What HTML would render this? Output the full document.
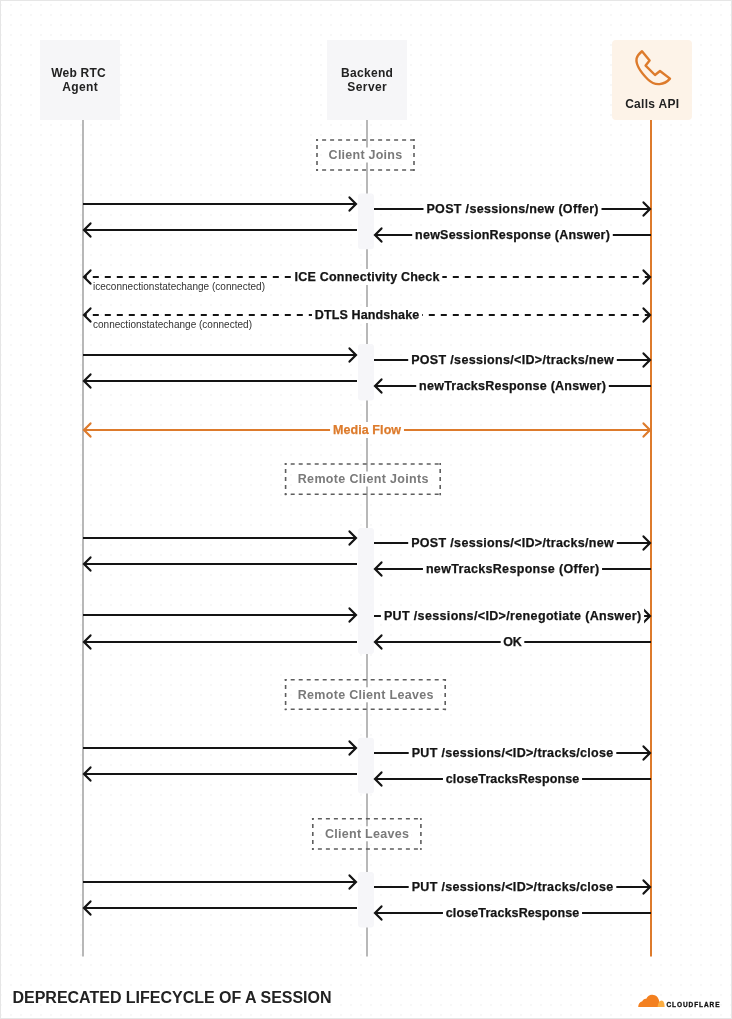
<!DOCTYPE html>
<html><head><meta charset="utf-8"><style>
html,body{margin:0;padding:0;background:#fff;}
body{width:732px;height:1019px;overflow:hidden;position:relative;}
svg{position:absolute;left:0;top:0;will-change:transform;font-family:"Liberation Sans",sans-serif;}
.frame{position:absolute;left:0;top:0;width:730px;height:1017px;border:1px solid #e6e6e6;}
</style></head><body>
<svg width="732" height="1019" viewBox="0 0 732 1019">
<defs><pattern id="dots" x="0" y="0" width="10" height="10" patternUnits="userSpaceOnUse"><rect x="0.5" y="4.5" width="1" height="1" fill="#e0e0e0"/></pattern></defs>
<rect x="0" y="0" width="732" height="1019" fill="url(#dots)"/>
<rect x="40" y="40" width="80" height="80" fill="#f6f6f8"/>
<rect x="327" y="40" width="80" height="80" fill="#f6f6f8"/>
<rect x="612" y="40" width="80" height="80" rx="4" fill="#fdf3e8"/>
<rect x="82" y="120" width="2" height="836.5" fill="#b8b8b8"/>
<rect x="366" y="120" width="2" height="836.5" fill="#b8b8b8"/>
<rect x="650" y="120" width="2" height="836.5" fill="#dd7b2c"/>
<text x="78.61" y="76.5" text-anchor="middle" font-size="12" font-weight="bold" fill="#222" letter-spacing="0.213">Web RTC</text>
<text x="80.18" y="90.8" text-anchor="middle" font-size="12" font-weight="bold" fill="#222" letter-spacing="0.360">Agent</text>
<text x="367.15" y="76.6" text-anchor="middle" font-size="12" font-weight="bold" fill="#222" letter-spacing="0.310">Backend</text>
<text x="367.22" y="90.8" text-anchor="middle" font-size="12" font-weight="bold" fill="#222" letter-spacing="0.438">Server</text>
<text x="652.25" y="107.9" text-anchor="middle" font-size="12" font-weight="bold" fill="#222" letter-spacing="0.291">Calls API</text>
<path d="M642,51.2 L649.6,60.6 L645.6,65.6 L655,75 L660,71 L670,78.6 C664.5,85 655,86.5 648,79.5 C641,72.5 635.5,65 636.6,58.5 C637.3,55.5 639.8,53 642,51.2 Z" fill="none" stroke="#dd7b2c" stroke-width="2.4" stroke-linejoin="round"/>
<line x1="316.1" y1="140" x2="414.9" y2="140" stroke="#5e5e5e" stroke-width="1.6" stroke-dasharray="4 4" stroke-dashoffset="2"/><line x1="316.1" y1="170" x2="414.9" y2="170" stroke="#5e5e5e" stroke-width="1.6" stroke-dasharray="4 4" stroke-dashoffset="2"/><line x1="317" y1="139.1" x2="317" y2="170.9" stroke="#5e5e5e" stroke-width="1.6" stroke-dasharray="4 4" stroke-dashoffset="2"/><line x1="414" y1="139.1" x2="414" y2="170.9" stroke="#5e5e5e" stroke-width="1.6" stroke-dasharray="4 4" stroke-dashoffset="2"/><rect x="326.5" y="147.5" width="77.80000000000001" height="15" fill="#fff"/><text x="365.52" y="159" text-anchor="middle" font-size="12.5" font-weight="bold" fill="#7a7a7a" letter-spacing="0.246">Client Joins</text>
<line x1="284.70000000000005" y1="464" x2="441.09999999999997" y2="464" stroke="#5e5e5e" stroke-width="1.6" stroke-dasharray="4 4" stroke-dashoffset="2"/><line x1="284.70000000000005" y1="494.3" x2="441.09999999999997" y2="494.3" stroke="#5e5e5e" stroke-width="1.6" stroke-dasharray="4 4" stroke-dashoffset="2"/><line x1="285.6" y1="463.1" x2="285.6" y2="495.2" stroke="#5e5e5e" stroke-width="1.6" stroke-dasharray="4 4" stroke-dashoffset="2"/><line x1="440.2" y1="463.1" x2="440.2" y2="495.2" stroke="#5e5e5e" stroke-width="1.6" stroke-dasharray="4 4" stroke-dashoffset="2"/><rect x="295.6" y="471.5" width="135.09999999999997" height="15" fill="#fff"/><text x="363.32" y="483" text-anchor="middle" font-size="12.5" font-weight="bold" fill="#7a7a7a" letter-spacing="0.339">Remote Client Joints</text>
<line x1="284.70000000000005" y1="679.8" x2="446.09999999999997" y2="679.8" stroke="#5e5e5e" stroke-width="1.6" stroke-dasharray="4 4" stroke-dashoffset="2"/><line x1="284.70000000000005" y1="709.3" x2="446.09999999999997" y2="709.3" stroke="#5e5e5e" stroke-width="1.6" stroke-dasharray="4 4" stroke-dashoffset="2"/><line x1="285.6" y1="678.9" x2="285.6" y2="710.1999999999999" stroke="#5e5e5e" stroke-width="1.6" stroke-dasharray="4 4" stroke-dashoffset="2"/><line x1="445.2" y1="678.9" x2="445.2" y2="710.1999999999999" stroke="#5e5e5e" stroke-width="1.6" stroke-dasharray="4 4" stroke-dashoffset="2"/><rect x="295.6" y="687.3" width="140.0" height="15" fill="#fff"/><text x="365.75" y="698.8" text-anchor="middle" font-size="12.5" font-weight="bold" fill="#7a7a7a" letter-spacing="0.304">Remote Client Leaves</text>
<line x1="311.90000000000003" y1="818.8" x2="421.79999999999995" y2="818.8" stroke="#5e5e5e" stroke-width="1.6" stroke-dasharray="4 4" stroke-dashoffset="2"/><line x1="311.90000000000003" y1="849" x2="421.79999999999995" y2="849" stroke="#5e5e5e" stroke-width="1.6" stroke-dasharray="4 4" stroke-dashoffset="2"/><line x1="312.8" y1="817.9" x2="312.8" y2="849.9" stroke="#5e5e5e" stroke-width="1.6" stroke-dasharray="4 4" stroke-dashoffset="2"/><line x1="420.9" y1="817.9" x2="420.9" y2="849.9" stroke="#5e5e5e" stroke-width="1.6" stroke-dasharray="4 4" stroke-dashoffset="2"/><rect x="322.9" y="826.3" width="88.10000000000002" height="15" fill="#fff"/><text x="367.08" y="837.8" text-anchor="middle" font-size="12.5" font-weight="bold" fill="#7a7a7a" letter-spacing="0.270">Client Leaves</text>
<rect x="358" y="193.6" width="16" height="55.70" rx="3" fill="#f6f6f9"/>
<rect x="358" y="344" width="16" height="56.60" rx="3" fill="#f6f6f9"/>
<rect x="358" y="528" width="16" height="126.00" rx="3" fill="#f6f6f9"/>
<rect x="358" y="737.7" width="16" height="55.70" rx="3" fill="#f6f6f9"/>
<rect x="358" y="871.9" width="16" height="55.50" rx="3" fill="#f6f6f9"/>
<line x1="83" y1="204" x2="356" y2="204" stroke="#141414" stroke-width="2"/><polyline points="349.5,197.4 356,204 349.5,210.6" fill="none" stroke="#141414" stroke-width="2.2" stroke-linecap="round"/>
<line x1="84" y1="230" x2="357" y2="230" stroke="#141414" stroke-width="2"/><polyline points="90.5,223.4 84,230 90.5,236.6" fill="none" stroke="#141414" stroke-width="2.2" stroke-linecap="round"/>
<line x1="374" y1="209" x2="650" y2="209" stroke="#141414" stroke-width="2"/><polyline points="643.5,202.4 650,209 643.5,215.6" fill="none" stroke="#141414" stroke-width="2.2" stroke-linecap="round"/>
<rect x="423.50" y="201.00" width="178.00" height="16" fill="#fff"/><text x="512.66" y="213.35" text-anchor="middle" font-size="12.5" font-weight="bold" fill="#141414" stroke="#141414" stroke-width="0.25" letter-spacing="0.326">POST /sessions/new (Offer)</text>
<line x1="375" y1="235" x2="651" y2="235" stroke="#141414" stroke-width="2"/><polyline points="381.5,228.4 375,235 381.5,241.6" fill="none" stroke="#141414" stroke-width="2.2" stroke-linecap="round"/>
<rect x="412.20" y="227.00" width="200.60" height="16" fill="#fff"/><text x="512.61" y="239.35" text-anchor="middle" font-size="12.5" font-weight="bold" fill="#141414" stroke="#141414" stroke-width="0.25" letter-spacing="0.224">newSessionResponse (Answer)</text>
<line x1="83" y1="355" x2="356" y2="355" stroke="#141414" stroke-width="2"/><polyline points="349.5,348.4 356,355 349.5,361.6" fill="none" stroke="#141414" stroke-width="2.2" stroke-linecap="round"/>
<line x1="84" y1="381" x2="357" y2="381" stroke="#141414" stroke-width="2"/><polyline points="90.5,374.4 84,381 90.5,387.6" fill="none" stroke="#141414" stroke-width="2.2" stroke-linecap="round"/>
<line x1="374" y1="360" x2="650" y2="360" stroke="#141414" stroke-width="2"/><polyline points="643.5,353.4 650,360 643.5,366.6" fill="none" stroke="#141414" stroke-width="2.2" stroke-linecap="round"/>
<rect x="408.20" y="352.00" width="208.60" height="16" fill="#fff"/><text x="512.66" y="364.35" text-anchor="middle" font-size="12.5" font-weight="bold" fill="#141414" stroke="#141414" stroke-width="0.25" letter-spacing="0.328">POST /sessions/&lt;ID&gt;/tracks/new</text>
<line x1="375" y1="386" x2="651" y2="386" stroke="#141414" stroke-width="2"/><polyline points="381.5,379.4 375,386 381.5,392.6" fill="none" stroke="#141414" stroke-width="2.2" stroke-linecap="round"/>
<rect x="416.20" y="378.00" width="192.60" height="16" fill="#fff"/><text x="512.62" y="390.35" text-anchor="middle" font-size="12.5" font-weight="bold" fill="#141414" stroke="#141414" stroke-width="0.25" letter-spacing="0.245">newTracksResponse (Answer)</text>
<line x1="83" y1="538" x2="356" y2="538" stroke="#141414" stroke-width="2"/><polyline points="349.5,531.4 356,538 349.5,544.6" fill="none" stroke="#141414" stroke-width="2.2" stroke-linecap="round"/>
<line x1="84" y1="564" x2="357" y2="564" stroke="#141414" stroke-width="2"/><polyline points="90.5,557.4 84,564 90.5,570.6" fill="none" stroke="#141414" stroke-width="2.2" stroke-linecap="round"/>
<line x1="374" y1="543" x2="650" y2="543" stroke="#141414" stroke-width="2"/><polyline points="643.5,536.4 650,543 643.5,549.6" fill="none" stroke="#141414" stroke-width="2.2" stroke-linecap="round"/>
<rect x="408.20" y="535.00" width="208.60" height="16" fill="#fff"/><text x="512.66" y="547.35" text-anchor="middle" font-size="12.5" font-weight="bold" fill="#141414" stroke="#141414" stroke-width="0.25" letter-spacing="0.328">POST /sessions/&lt;ID&gt;/tracks/new</text>
<line x1="375" y1="569" x2="651" y2="569" stroke="#141414" stroke-width="2"/><polyline points="381.5,562.4 375,569 381.5,575.6" fill="none" stroke="#141414" stroke-width="2.2" stroke-linecap="round"/>
<rect x="422.95" y="561.00" width="179.10" height="16" fill="#fff"/><text x="512.66" y="573.35" text-anchor="middle" font-size="12.5" font-weight="bold" fill="#141414" stroke="#141414" stroke-width="0.25" letter-spacing="0.327">newTracksResponse (Offer)</text>
<line x1="83" y1="615" x2="356" y2="615" stroke="#141414" stroke-width="2"/><polyline points="349.5,608.4 356,615 349.5,621.6" fill="none" stroke="#141414" stroke-width="2.2" stroke-linecap="round"/>
<line x1="84" y1="642" x2="357" y2="642" stroke="#141414" stroke-width="2"/><polyline points="90.5,635.4 84,642 90.5,648.6" fill="none" stroke="#141414" stroke-width="2.2" stroke-linecap="round"/>
<line x1="374" y1="616" x2="650" y2="616" stroke="#141414" stroke-width="2"/><polyline points="643.5,609.4 650,616 643.5,622.6" fill="none" stroke="#141414" stroke-width="2.2" stroke-linecap="round"/>
<rect x="380.90" y="608.00" width="263.20" height="16" fill="#fff"/><text x="512.68" y="620.35" text-anchor="middle" font-size="12.5" font-weight="bold" fill="#141414" stroke="#141414" stroke-width="0.25" letter-spacing="0.353">PUT /sessions/&lt;ID&gt;/renegotiate (Answer)</text>
<line x1="375" y1="642" x2="651" y2="642" stroke="#141414" stroke-width="2"/><polyline points="381.5,635.4 375,642 381.5,648.6" fill="none" stroke="#141414" stroke-width="2.2" stroke-linecap="round"/>
<rect x="500.70" y="634.00" width="23.60" height="16" fill="#fff"/><text x="512.31" y="646.35" text-anchor="middle" font-size="12.5" font-weight="bold" fill="#141414" stroke="#141414" stroke-width="0.25" letter-spacing="-0.375">OK</text>
<line x1="83" y1="748" x2="356" y2="748" stroke="#141414" stroke-width="2"/><polyline points="349.5,741.4 356,748 349.5,754.6" fill="none" stroke="#141414" stroke-width="2.2" stroke-linecap="round"/>
<line x1="84" y1="774" x2="357" y2="774" stroke="#141414" stroke-width="2"/><polyline points="90.5,767.4 84,774 90.5,780.6" fill="none" stroke="#141414" stroke-width="2.2" stroke-linecap="round"/>
<line x1="374" y1="753" x2="650" y2="753" stroke="#141414" stroke-width="2"/><polyline points="643.5,746.4 650,753 643.5,759.6" fill="none" stroke="#141414" stroke-width="2.2" stroke-linecap="round"/>
<rect x="408.70" y="745.00" width="207.60" height="16" fill="#fff"/><text x="512.66" y="757.35" text-anchor="middle" font-size="12.5" font-weight="bold" fill="#141414" stroke="#141414" stroke-width="0.25" letter-spacing="0.330">PUT /sessions/&lt;ID&gt;/tracks/close</text>
<line x1="375" y1="779" x2="651" y2="779" stroke="#141414" stroke-width="2"/><polyline points="381.5,772.4 375,779 381.5,785.6" fill="none" stroke="#141414" stroke-width="2.2" stroke-linecap="round"/>
<rect x="442.95" y="771.00" width="139.10" height="16" fill="#fff"/><text x="512.56" y="783.35" text-anchor="middle" font-size="12.5" font-weight="bold" fill="#141414" stroke="#141414" stroke-width="0.25" letter-spacing="0.114">closeTracksResponse</text>
<line x1="83" y1="882" x2="356" y2="882" stroke="#141414" stroke-width="2"/><polyline points="349.5,875.4 356,882 349.5,888.6" fill="none" stroke="#141414" stroke-width="2.2" stroke-linecap="round"/>
<line x1="84" y1="908" x2="357" y2="908" stroke="#141414" stroke-width="2"/><polyline points="90.5,901.4 84,908 90.5,914.6" fill="none" stroke="#141414" stroke-width="2.2" stroke-linecap="round"/>
<line x1="374" y1="887" x2="650" y2="887" stroke="#141414" stroke-width="2"/><polyline points="643.5,880.4 650,887 643.5,893.6" fill="none" stroke="#141414" stroke-width="2.2" stroke-linecap="round"/>
<rect x="408.70" y="879.00" width="207.60" height="16" fill="#fff"/><text x="512.66" y="891.35" text-anchor="middle" font-size="12.5" font-weight="bold" fill="#141414" stroke="#141414" stroke-width="0.25" letter-spacing="0.330">PUT /sessions/&lt;ID&gt;/tracks/close</text>
<line x1="375" y1="913" x2="651" y2="913" stroke="#141414" stroke-width="2"/><polyline points="381.5,906.4 375,913 381.5,919.6" fill="none" stroke="#141414" stroke-width="2.2" stroke-linecap="round"/>
<rect x="442.95" y="905.00" width="139.10" height="16" fill="#fff"/><text x="512.56" y="917.35" text-anchor="middle" font-size="12.5" font-weight="bold" fill="#141414" stroke="#141414" stroke-width="0.25" letter-spacing="0.114">closeTracksResponse</text>
<line x1="84" y1="277" x2="650" y2="277" stroke="#141414" stroke-width="2" stroke-dasharray="6 6" stroke-dashoffset="3.2"/><polyline points="90.5,270.4 84,277 90.5,283.6" fill="none" stroke="#141414" stroke-width="2.2" stroke-linecap="round"/><polyline points="643.5,270.4 650,277 643.5,283.6" fill="none" stroke="#141414" stroke-width="2.2" stroke-linecap="round"/><rect x="291.70" y="269.00" width="150.60" height="16" fill="#fff"/><text x="367.11" y="281.35" text-anchor="middle" font-size="12.5" font-weight="bold" fill="#141414" stroke="#141414" stroke-width="0.25" letter-spacing="0.213">ICE Connectivity Check</text>
<line x1="84" y1="315" x2="650" y2="315" stroke="#141414" stroke-width="2" stroke-dasharray="6 6" stroke-dashoffset="3.2"/><polyline points="90.5,308.4 84,315 90.5,321.6" fill="none" stroke="#141414" stroke-width="2.2" stroke-linecap="round"/><polyline points="643.5,308.4 650,315 643.5,321.6" fill="none" stroke="#141414" stroke-width="2.2" stroke-linecap="round"/><rect x="311.95" y="307.00" width="110.10" height="16" fill="#fff"/><text x="367.06" y="319.35" text-anchor="middle" font-size="12.5" font-weight="bold" fill="#141414" stroke="#141414" stroke-width="0.25" letter-spacing="0.120">DTLS Handshake</text>
<line x1="84" y1="430" x2="650" y2="430" stroke="#dd7b2c" stroke-width="2"/><polyline points="90.5,423.4 84,430 90.5,436.6" fill="none" stroke="#dd7b2c" stroke-width="2.2" stroke-linecap="round"/><polyline points="643.5,423.4 650,430 643.5,436.6" fill="none" stroke="#dd7b2c" stroke-width="2.2" stroke-linecap="round"/><rect x="330.05" y="422.00" width="73.90" height="16" fill="#fff"/><text x="367.05" y="434.35" text-anchor="middle" font-size="12.5" font-weight="bold" fill="#dd7b2c" stroke="#dd7b2c" stroke-width="0.25" letter-spacing="0.093">Media Flow</text>
<text x="93" y="290.4" font-size="10" fill="#333" letter-spacing="0.021">iceconnectionstatechange (connected)</text>
<text x="93" y="327.9" font-size="10" fill="#333" letter-spacing="0.017">connectionstatechange (connected)</text>
<text x="12.5" y="1002.7" font-size="16" font-weight="bold" fill="#222" letter-spacing="-0.013">DEPRECATED LIFECYCLE OF A SESSION</text>
<path d="M638.2,1007 C638.2,1004.2 639.8,1001.8 642.3,1001.2 C643,999.2 644.6,998.4 646.3,998.7 C647.5,996.2 649.6,994.8 652.2,994.8 C656,994.8 658.6,997.6 659.2,1001.2 L660.6,1007 Z" fill="#f38020"/>
<path d="M657.6,1007 C657.9,1003.2 659.4,1000.4 661.6,1000.4 C663.6,1000.4 664.6,1003.2 664.6,1007 Z" fill="#fbad41"/>
<text x="666.5" y="1006.8" font-size="6.5" font-weight="bold" fill="#111" stroke="#111" stroke-width="0.3" letter-spacing="0.922">CLOUDFLARE</text>
</svg>
<div class="frame"></div>
</body></html>
